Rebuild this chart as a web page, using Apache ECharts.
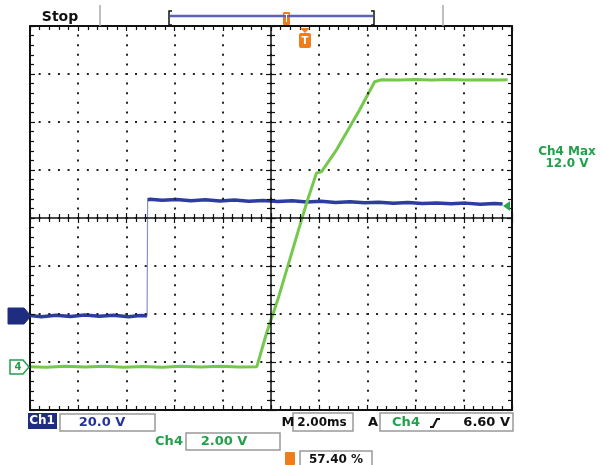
<!DOCTYPE html>
<html><head><meta charset="utf-8">
<script src="https://cdn.jsdelivr.net/npm/echarts@6/dist/echarts.min.js"></script>
<style>html,body{margin:0;padding:0;background:#fff}#c{width:603px;height:465px}</style>
</head><body><div id="c"></div>
<script>
// ---- data (time in ms, relative to trigger; values in volts) ----
const ch1Time  = [-11.48,-11.0,-10.4,-9.8,-9.2,-8.6,-8.0,-7.4,-6.9,-6.62,-6.60,-6.5,-6.0,-5.4,-4.8,-4.2,-3.6,-3.0,-2.4,-1.8,-1.2,-0.6,0.0,0.6,1.2,1.8,2.4,3.0,3.6,4.2,4.8,5.4,6.0,6.6,7.2,7.8,8.13];
const ch1Volts = [0.2,-0.3,0.3,-0.2,0.4,-0.1,0.3,-0.3,0.2,0.1,48.4,48.6,48.2,48.5,48.0,48.4,47.9,48.3,47.8,48.1,47.7,48.0,47.5,47.8,47.3,47.6,47.2,47.4,46.9,47.3,46.8,47.1,46.7,47.0,46.5,46.8,46.6];
const ch1StepIndex = 9;   // last sample before the rising edge
const ch4Time  = [-11.48,-10.8,-10.0,-9.2,-8.4,-7.6,-6.8,-6.0,-5.2,-4.4,-3.6,-2.8,-2.07,-1.66,-1.20,-0.58,-0.21,0.04,0.41,0.62,1.24,2.20,2.82,3.11,3.8,4.5,5.2,5.9,6.6,7.3,8.0,8.34];
const ch4Volts = [0.0,-0.02,0.02,-0.01,0.02,-0.02,0.01,-0.02,0.02,-0.01,0.02,-0.01,0.0,1.42,2.79,4.88,6.13,6.96,8.08,8.13,9.04,10.71,11.88,11.96,11.95,11.97,11.95,11.97,11.95,11.96,11.95,11.96];
// scope settings
const ch1VoltsPerDiv = 20.0, ch1GroundDiv = -2.04;
const ch4VoltsPerDiv = 2.00, ch4GroundDiv = -3.10;
const msPerDiv = 2.00, triggerPercent = 57.40;
const statusLabels = { state:'Stop', ch1:'Ch1', ch1Scale:'20.0 V', ch4:'Ch4', ch4Scale:'2.00 V',
  mLabel:'M', timeScale:'2.00ms', aLabel:'A', trigLevel:'6.60 V', pos:'57.40 %', maxLine1:'Ch4 Max', maxLine2:'12.0 V' };

// ---- styles ----
const BLUE = '#2d3ca0', STEPBLUE = '#8a8fd0', GREEN = '#74c84c', GTEXT = '#22a04b', ORANGE = '#f07d1a', DARKBLUE = '#1f2d80', INK = '#111';
const tMin = -10 * msPerDiv * triggerPercent / 100, tMax = tMin + 10 * msPerDiv;

const chart = echarts.init(document.getElementById('c'), null, {renderer:'canvas'});

function gridAxis(extra) {
  return Object.assign({
    type:'value', min:0, max:10, interval:1, z:5,
    axisLabel:{show:false},
    axisLine:{show:true, onZero:false, lineStyle:{color:INK, width:2}},
    axisTick:{show:true, inside:true, length:5, lineStyle:{color:INK, width:1.2}},
    minorTick:{show:true, splitNumber:5, length:4, lineStyle:{color:INK, width:1.2}},
    splitLine:{show:false}
  }, extra);
}
function gridYAxis(extra) {
  const a = gridAxis(extra); a.min = -4; a.max = 4; return a;
}
const dotX = {show:true, lineStyle:{color:'#222', width:2, type:[2, 7.6], dashOffset:1}};
const dotY = {show:true, lineStyle:{color:'#222', width:2, type:[2, 7.64], dashOffset:1}};

const xAxes = [
  gridAxis({position:'bottom', splitLine:dotX}),
  gridAxis({position:'top'}),
  gridAxis({position:'bottom', offset:-192, axisLine:{show:true,onZero:false,lineStyle:{color:INK,width:1.5}}}),
  gridAxis({position:'bottom', offset:-192, axisLine:{show:false,onZero:false}, axisTick:{show:true,inside:false,length:5,lineStyle:{color:INK,width:1.2}}}),
  {type:'value', min:tMin, max:tMax, show:false}
];
const yAxes = [
  gridYAxis({position:'left', splitLine:dotY}),
  gridYAxis({position:'right'}),
  gridYAxis({position:'left', offset:-241, axisLine:{show:true,onZero:false,lineStyle:{color:INK,width:1.5}}}),
  gridYAxis({position:'left', offset:-241, axisLine:{show:false,onZero:false}, axisTick:{show:true,inside:false,length:5,lineStyle:{color:INK,width:1.2}}}),
  {type:'value', min:(-4 - ch1GroundDiv) * ch1VoltsPerDiv, max:(4 - ch1GroundDiv) * ch1VoltsPerDiv, show:false},
  {type:'value', min:(-4 - ch4GroundDiv) * ch4VoltsPerDiv, max:(4 - ch4GroundDiv) * ch4VoltsPerDiv, show:false}
];

const FF = '"DejaVu Sans", sans-serif';
function txt(x, y, s, fill, align, size) {
  return {type:'text', silent:true, z:100, style:{x, y, text:s, fill, font:'bold ' + (size||13) + 'px ' + FF, align:align||'center', verticalAlign:'middle'}};
}
function rect(x, y, w, h, fill, stroke, r) {
  return {type:'rect', silent:true, z:90, shape:{x, y, width:w, height:h, r:r||0}, style:{fill:fill||'#fff', stroke:stroke||null, lineWidth:1.5}};
}
function poly(points, fill, stroke, lw) {
  return {type:'polygon', silent:true, z:95, shape:{points}, style:{fill, stroke:stroke||null, lineWidth:lw||1}};
}
function pline(points, stroke, lw) {
  return {type:'polyline', silent:true, z:95, shape:{points}, style:{stroke, lineWidth:lw||1, fill:null}};
}

const graphics = [
  txt(60, 17, statusLabels.state, INK, 'center', 14),
  pline([[100,5],[100,26]], '#aaa', 1.5),
  pline([[443,5],[443,26]], '#aaa', 1.5),
  pline([[172,11],[169,11],[169,25],[172,25]], INK, 1.5),
  pline([[371,11],[374,11],[374,25],[371,25]], INK, 1.5),
  pline([[170,16],[373,16]], '#5c62b5', 2.5),
  rect(283, 12, 7, 13, ORANGE, null, 1),
  pline([[284.5,14.5],[288.5,14.5]], '#fff', 1),
  pline([[286.5,14.5],[286.5,22]], '#fff', 1),
  poly([[300,28],[310,28],[305,33]], ORANGE),
  rect(299, 33, 12, 15, ORANGE, null, 2),
  txt(305, 41, 'T', '#fff', 'center', 10),
  // channel ground markers
  poly([[8,308],[24,308],[31,316],[24,324],[8,324]], DARKBLUE, DARKBLUE, 1),
  poly([[10,360],[23,360],[29,367],[23,374],[10,374]], '#fff', GTEXT, 1.5),
  txt(18, 367.5, '4', GTEXT, 'center', 10),
  // trigger level arrow
  poly([[503,206],[510,201],[510,211]], '#2aa84a'),
  // Ch4 max readout
  txt(567, 152, statusLabels.maxLine1, GTEXT, 'center', 12),
  txt(567, 164, statusLabels.maxLine2, GTEXT, 'center', 12),
  // bottom status
  rect(28, 413, 29, 16, DARKBLUE, null, 0),
  txt(42, 421, statusLabels.ch1, '#fff', 'center', 12),
  rect(60, 414, 95, 17, '#fff', '#999'),
  txt(102, 422.5, statusLabels.ch1Scale, '#27329a', 'center', 13),
  txt(288, 422.5, statusLabels.mLabel, INK, 'center', 13),
  rect(293, 413, 60, 18, '#fff', '#999'),
  txt(322, 422.5, statusLabels.timeScale, INK, 'center', 12),
  txt(373, 422.5, statusLabels.aLabel, INK, 'center', 13),
  rect(380, 413, 133, 18, '#fff', '#999'),
  txt(406, 422.5, statusLabels.ch4, GTEXT, 'center', 13),
  pline([[430,427],[433,427],[437,419],[440,419]], INK, 2),
  txt(510, 422.5, statusLabels.trigLevel, INK, 'right', 13),
  txt(169, 441.5, statusLabels.ch4, GTEXT, 'center', 13),
  rect(186, 433, 94, 17, '#fff', '#999'),
  txt(224, 441.5, statusLabels.ch4Scale, GTEXT, 'center', 13),
  rect(285, 452, 10, 13, ORANGE, null, 1),
  rect(300, 451, 72, 16, '#fff', '#999'),
  txt(336, 459.5, statusLabels.pos, INK, 'center', 12)
];

const ch1Pairs = ch1Time.map((t,i)=>[t, ch1Volts[i]]);
chart.setOption({
  animation:false,
  backgroundColor:'#fff',
  grid:{left:30, top:26, width:482, height:384, containLabel:false},
  xAxis:xAxes,
  yAxis:yAxes,
  series:[
    {name:'Ch1 low', type:'line', xAxisIndex:4, yAxisIndex:4, symbol:'none', z:2,
     data:ch1Pairs.slice(0, ch1StepIndex + 1), lineStyle:{color:BLUE, width:3.5}},
    {name:'Ch1 edge', type:'line', xAxisIndex:4, yAxisIndex:4, symbol:'none', z:2,
     data:ch1Pairs.slice(ch1StepIndex, ch1StepIndex + 2), lineStyle:{color:STEPBLUE, width:1.2}},
    {name:'Ch1 high', type:'line', xAxisIndex:4, yAxisIndex:4, symbol:'none', z:2,
     data:ch1Pairs.slice(ch1StepIndex + 1), lineStyle:{color:BLUE, width:3.5}},
    {name:'Ch4', type:'line', xAxisIndex:4, yAxisIndex:5, symbol:'none', z:3,
     data:ch4Time.map((t,i)=>[t, ch4Volts[i]]), lineStyle:{color:GREEN, width:3}}
  ],
  graphic:graphics
});
</script></body></html>
